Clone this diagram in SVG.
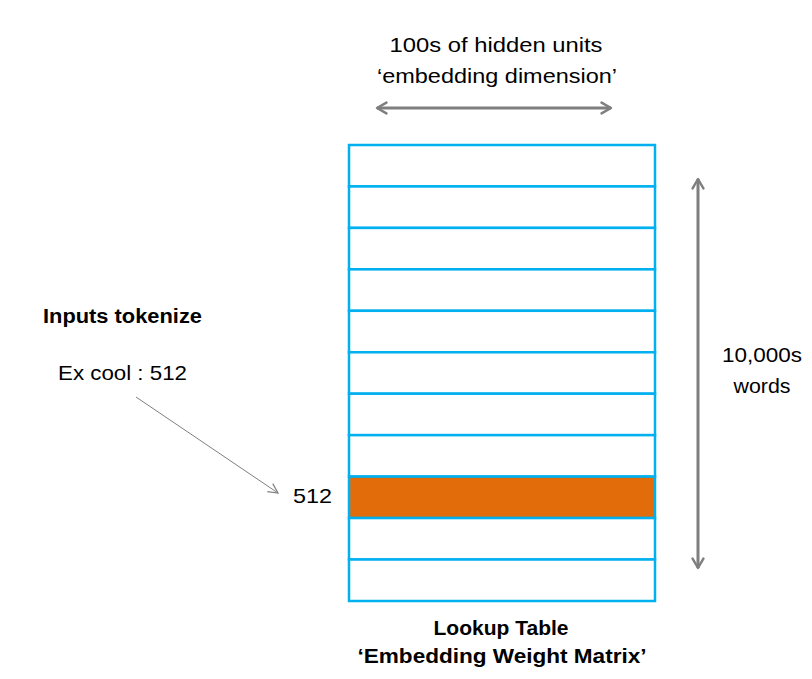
<svg xmlns="http://www.w3.org/2000/svg" width="812" height="679" viewBox="0 0 812 679">
<style>
text{font-family:"Liberation Sans","DejaVu Sans",sans-serif;font-size:21px;fill:#000}
.b{font-weight:bold;font-size:20px}
.row{fill:#fff;stroke:#00b0f0;stroke-width:2.5}
.sel{fill:#e36c0a}
.dim{stroke:#7f7f7f;stroke-width:3;fill:none}
</style>
<defs>
<marker id="ah" viewBox="0 0 10 10" refX="8" refY="5" markerWidth="4.5" markerHeight="4.5" orient="auto-start-reverse" markerUnits="strokeWidth">
<path d="M1,1 L8,5 L1,9" fill="none" stroke="#7f7f7f" stroke-width="1.8" stroke-linecap="round" stroke-linejoin="round"/>
</marker>
<marker id="ah2" viewBox="0 0 10 10" refX="9" refY="5" markerWidth="12" markerHeight="12" orient="auto" markerUnits="userSpaceOnUse">
<path d="M1,1 L9,5 L1,9" fill="none" stroke="#7f7f7f" stroke-width="1"/>
</marker>
</defs>
<rect width="812" height="679" fill="#fff"/>
<g id="table">
<rect class="row" x="349" y="145" width="306" height="41.45"/>
<rect class="row" x="349" y="186.45" width="306" height="41.45"/>
<rect class="row" x="349" y="227.9" width="306" height="41.45"/>
<rect class="row" x="349" y="269.35" width="306" height="41.45"/>
<rect class="row" x="349" y="310.8" width="306" height="41.45"/>
<rect class="row" x="349" y="352.25" width="306" height="41.45"/>
<rect class="row" x="349" y="393.7" width="306" height="41.45"/>
<rect class="row" x="349" y="435.15" width="306" height="41.45"/>
<rect class="row sel" x="349" y="476.6" width="306" height="41.45"/>
<rect class="row" x="349" y="518.05" width="306" height="41.45"/>
<rect class="row" x="349" y="559.5" width="306" height="41.5"/>
</g>
<g id="top-label">
<text x="496" y="52" text-anchor="middle" textLength="213" lengthAdjust="spacingAndGlyphs">100s of hidden units</text>
<text x="497" y="83" text-anchor="middle" textLength="240" lengthAdjust="spacingAndGlyphs">‘embedding dimension’</text>
</g>
<g id="side-label">
<text x="762" y="362" text-anchor="middle" textLength="80" lengthAdjust="spacingAndGlyphs">10,000s</text>
<text x="762" y="393" text-anchor="middle" textLength="57" lengthAdjust="spacingAndGlyphs">words</text>
</g>
<g id="inputs">
<text class="b" x="43" y="323" textLength="159" lengthAdjust="spacingAndGlyphs">Inputs tokenize</text>
<text x="58" y="380" textLength="129" lengthAdjust="spacingAndGlyphs">Ex cool : 512</text>
<text x="293" y="503" textLength="39" lengthAdjust="spacingAndGlyphs">512</text>
</g>
<g id="caption">
<text class="b" x="501" y="635" text-anchor="middle" textLength="135" lengthAdjust="spacingAndGlyphs">Lookup Table</text>
<text class="b" x="502" y="663" text-anchor="middle" textLength="289" lengthAdjust="spacingAndGlyphs">‘Embedding Weight Matrix’</text>
</g>
<g id="connectors">
<line class="dim" x1="377" y1="108" x2="611" y2="108" marker-start="url(#ah)" marker-end="url(#ah)"/>
<line class="dim" x1="698" y1="179" x2="698" y2="568" marker-start="url(#ah)" marker-end="url(#ah)"/>
<line x1="136" y1="397" x2="278" y2="493" stroke="#7f7f7f" stroke-width="1" marker-end="url(#ah2)"/>
</g>
</svg>
